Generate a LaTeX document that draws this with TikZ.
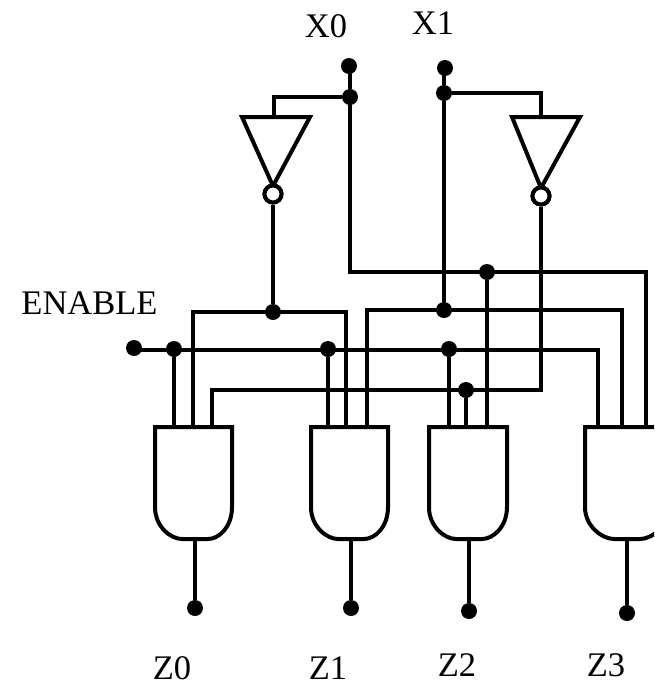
\documentclass[tikz,border=0pt]{standalone}
\usepackage{fontspec}
\setmainfont{Liberation Serif}
\tikzset{
  wire/.style={line width=4pt,line join=miter,line cap=butt,black},
  gateline/.style={line width=4pt,line join=miter,black,fill=white},
  dot/.style={circle,fill=black,draw=none,inner sep=0pt,minimum size=16pt},
  bubble/.style={circle,draw=black,line width=4pt,fill=white,inner sep=0pt,minimum size=17pt},
  lab/.style={inner sep=0pt,font=\fontsize{34.5pt}{34.5pt}\selectfont,text=black}
}
\newcommand{\andgate}[3]{% left, right, centre
  \draw[gateline] (#1,427) -- (#2,427) -- (#2,507)
    .. controls (#2,527) and (#3+24,539) .. (#3+13,539) -- (#3-13,539)
    .. controls (#3-24,539) and (#1,527) .. (#1,507) -- cycle;}
\newcommand{\invgate}[4]{% left, right, apex x, apex y
  \draw[gateline] (#1,117) -- (#2,117) -- (#3,#4) -- cycle;}
\begin{document}
\begin{tikzpicture}[x=1pt,y=-1pt]
\useasboundingbox (0,0) rectangle (654,686);
\clip (0,0) rectangle (654,686);
% labels
\node[lab] (lx0) at (326,26) {X0};
\node[lab] (lx1) at (433,23) {X1};
\node[lab] (len) at (89.5,303) {ENABLE};
\node[lab] (lz0) at (172,668) {Z0};
\node[lab] (lz1) at (328,668) {Z1};
\node[lab] (lz2) at (457,665) {Z2};
\node[lab] (lz3) at (606,665) {Z3};
% terminals and junctions
\node[dot] (x0) at (349,66) {};
\node[dot] (x0j) at (350,97) {};
\node[dot] (x1) at (445,68) {};
\node[dot] (x1j) at (444,93) {};
\node[dot] (n0) at (273,312) {};
\node[dot] (x1k) at (444,310) {};
\node[dot] (x0k) at (487,272) {};
\node[dot] (en) at (134,348) {};
\node[dot] (e0) at (174,349) {};
\node[dot] (e1) at (328,349) {};
\node[dot] (e2) at (449,349) {};
\node[dot] (n1) at (466,390) {};
\node[dot] (z0) at (195,608) {};
\node[dot] (z1) at (351,608) {};
\node[dot] (z2) at (469,611) {};
\node[dot] (z3) at (627,613) {};
% inverter bubbles
\node[bubble] (b0) at (273,194) {};
\node[bubble] (b1) at (541,196) {};
% corners and gate pins
\coordinate (i0) at (274,117);
\coordinate (i1) at (541,117);
\foreach \n/\x/\y in {a1/174/429,a2/193/429,a3/212/429,
                      b1p/328/429,b2p/346/429,b3p/367/429,
                      c1/449/429,c2/466/429,c3/487/429,
                      d1/598/429,d2/622/429,d3/646/429,
                      o0/195/539,o1/351/539,o2/469/539,o3/627/539}
  \coordinate (\n) at (\x,\y);
% wires
\draw[wire] (x0j |- x0) -- (x0j);
\draw[wire] (x1j |- x1) -- (x1j);
\draw[wire] (x0j) -| (i0);
\draw[wire] (x1j) -| (i1);
\draw[wire] (x0j.center) |- (x0k.center) -| (d3);
\draw[wire] (x0k) -- (c3);
\draw[wire] (x1j) -- (x1k);
\draw[wire] (b0) -- (n0);
\draw[wire] (a2) |- (n0.center) -| (b2p);
\draw[wire] (b3p) |- (x1k.center) -| (d2);
\draw[wire] (en.center) -- (134,350) -- (598,350) -- (d1);
\draw[wire] (e0) -- (a1);
\draw[wire] (e1) -- (b1p);
\draw[wire] (e2) -- (c1);
\draw[wire] (b1) |- (n1.center) -| (a3);
\draw[wire] (n1) -- (c2);
\draw[wire] (o0) -- (z0);
\draw[wire] (o1) -- (z1);
\draw[wire] (o2) -- (z2);
\draw[wire] (o3) -- (z3);
% gates
\andgate{155}{232}{195}
\andgate{311}{388}{351}
\andgate{429}{507}{469}
\andgate{585}{669}{627}
\invgate{242}{310}{273}{186}
\invgate{512}{580}{541}{188}
% redraw bubbles over the triangle tips
\node[bubble] at (b0) {};
\node[bubble] at (b1) {};
\end{tikzpicture}
\end{document}
